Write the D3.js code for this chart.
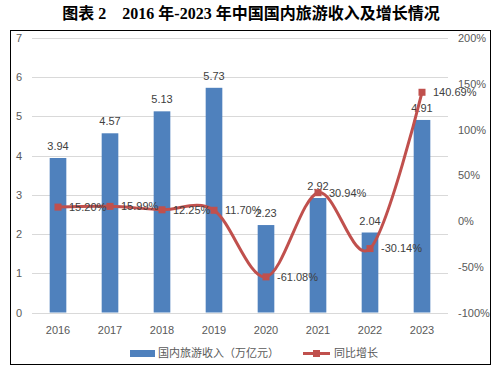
<!DOCTYPE html>
<html><head><meta charset="utf-8">
<script src="https://cdn.jsdelivr.net/npm/d3@7"></script>
<style>body{margin:0;background:#fff}svg{display:block}</style>
</head><body>
<svg id="c" width="497" height="376"></svg>
<script>
const years = ["2016","2017","2018","2019","2020","2021","2022","2023"];
const revenue = [3.94, 4.57, 5.13, 5.73, 2.23, 2.92, 2.04, 4.91];
const growth = [15.20, 15.99, 12.25, 11.70, -61.08, 30.94, -30.14, 140.69];
const leftTicks = [0,1,2,3,4,5,6,7];
const rightTicks = [-100,-50,0,50,100,150,200];
const title = "图表 2    2016 年-2023 年中国国内旅游收入及增长情况";
const legendBar = "国内旅游收入（万亿元）";
const legendLine = "同比增长";

const svg = d3.select("#c");
const font = "'Liberation Sans', 'Noto Sans CJK SC', sans-serif";
const txt = "#595959";
const barColor = "#4F81BD", lineColor = "#C0504D";

svg.append("text").attr("x", 251).attr("y", 19).attr("text-anchor","middle")
  .style("white-space","pre")
  .attr("font-family","'Liberation Serif','Noto Sans CJK SC',serif")
  .attr("font-weight","bold").attr("font-size",16).attr("fill","#000").text(title);

svg.append("rect").attr("x",10.5).attr("y",30.5).attr("width",480).attr("height",334)
  .attr("fill","none").attr("stroke","#000").attr("stroke-width",1);

const x = d3.scaleBand().domain(years).range([32,448]).paddingInner(0.68).paddingOuter(0.34);
const y = d3.scaleLinear().domain([0,7]).range([312.5,38]);
const y2 = d3.scaleLinear().domain([-100,200]).range([312.5,38]);

// gridlines
svg.append("g").selectAll("line").data(leftTicks).join("line")
  .attr("x1",32).attr("x2",448).attr("y1",d=>Math.round(y(d))+0.5).attr("y2",d=>Math.round(y(d))+0.5)
  .attr("stroke","#D9D9D9").attr("stroke-width",1);

// left axis
const gl = svg.append("g").attr("transform","translate(22,0)")
  .call(d3.axisLeft(y).tickValues(leftTicks).tickSize(0).tickPadding(0).tickFormat(d3.format("d")));
gl.select(".domain").remove();
gl.selectAll("text").attr("font-family",font).attr("font-size",11).attr("fill",txt);

// right axis
const gr = svg.append("g").attr("transform","translate(458,0)")
  .call(d3.axisRight(y2).tickValues(rightTicks).tickSize(0).tickPadding(0).tickFormat(d=>d+"%"));
gr.select(".domain").remove();
gr.selectAll("text").attr("font-family",font).attr("font-size",11).attr("fill",txt);

// bottom axis
const gb = svg.append("g").attr("transform","translate(0,312.5)")
  .call(d3.axisBottom(x).tickSize(0).tickPadding(14));
gb.select(".domain").remove();
gb.selectAll("text").attr("font-family",font).attr("font-size",11).attr("fill",txt);

// bars
svg.append("g").selectAll("rect").data(years).join("rect")
  .attr("x",d=>x(d)).attr("width",x.bandwidth())
  .attr("y",(d,i)=>y(revenue[i])).attr("height",(d,i)=>y(0)-y(revenue[i]))
  .attr("fill",barColor);

svg.append("g").selectAll("text").data(years).join("text")
  .attr("x",d=>x(d)+x.bandwidth()/2).attr("y",(d,i)=>y(revenue[i])-8)
  .attr("text-anchor","middle").attr("font-family",font).attr("font-size",11).attr("fill","#404040")
  .text((d,i)=>revenue[i].toFixed(2));

// line
const cx = d=>x(d)+x.bandwidth()/2;
const line = d3.line().x((d,i)=>cx(years[i])).y(d=>y2(d)).curve(d3.curveCardinal.tension(0));
svg.append("path").datum(growth).attr("d",line).attr("fill","none")
  .attr("stroke",lineColor).attr("stroke-width",3).attr("stroke-linejoin","round");

svg.append("g").selectAll("rect").data(growth).join("rect")
  .attr("x",(d,i)=>cx(years[i])-3.5).attr("y",d=>y2(d)-3.5).attr("width",7).attr("height",7)
  .attr("fill",lineColor);

svg.append("g").selectAll("text").data(growth).join("text")
  .attr("x",(d,i)=>cx(years[i])+11).attr("y",d=>y2(d)).attr("dy","0.35em")
  .attr("font-family",font).attr("font-size",11).attr("fill","#404040")
  .text(d=>d.toFixed(2)+"%");

// legend
const lg = svg.append("g");
lg.append("rect").attr("x",130).attr("y",350).attr("width",25).attr("height",7).attr("fill",barColor);
lg.append("text").attr("x",158).attr("y",353.5).attr("dy","0.35em").attr("font-family",font)
  .attr("font-size",11).attr("fill",txt).text(legendBar);
lg.append("line").attr("x1",303).attr("x2",330).attr("y1",353.5).attr("y2",353.5)
  .attr("stroke",lineColor).attr("stroke-width",3);
lg.append("rect").attr("x",313).attr("y",350).attr("width",7).attr("height",7).attr("fill",lineColor);
lg.append("text").attr("x",334).attr("y",353.5).attr("dy","0.35em").attr("font-family",font)
  .attr("font-size",11).attr("fill",txt).text(legendLine);
</script>
</body></html>
